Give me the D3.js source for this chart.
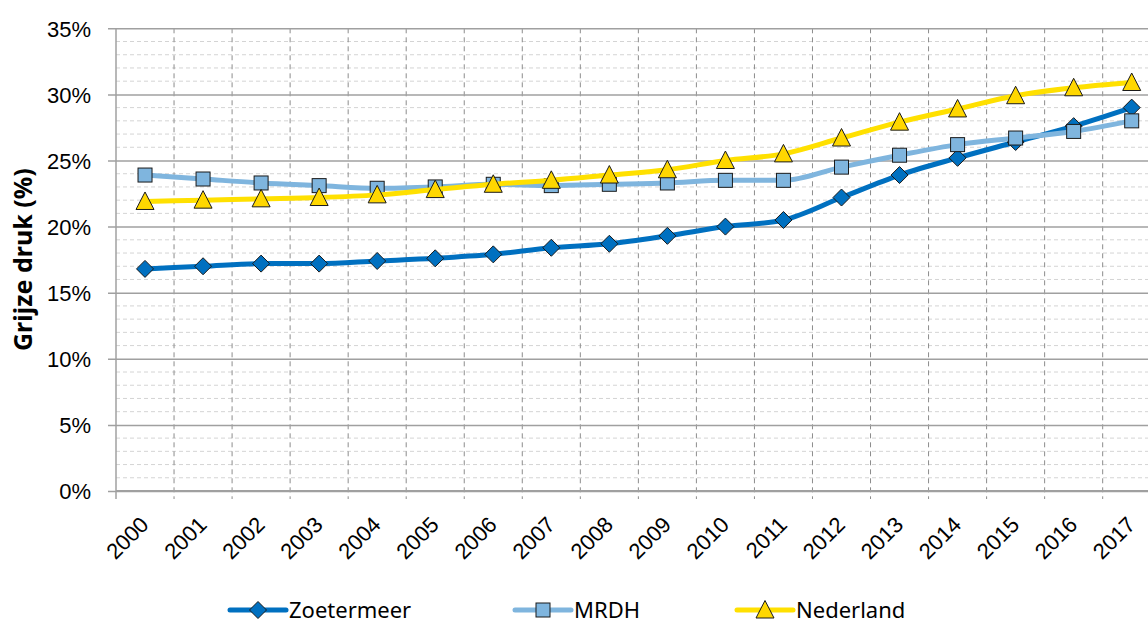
<!DOCTYPE html>
<html>
<head>
<meta charset="utf-8">
<script src="https://cdn.jsdelivr.net/npm/d3@7"></script>
<style>
  body { margin: 0; background: #fff; }
  svg { display: block; font-family: "Noto Sans", sans-serif; }
</style>
</head>
<body>
<div id="chart"></div>
<script>
const years = ['2000', '2001', '2002', '2003', '2004', '2005', '2006', '2007', '2008',
  '2009', '2010', '2011', '2012', '2013', '2014', '2015', '2016', '2017'];
const zoetermeer = [16.8, 17.0, 17.2, 17.2, 17.4, 17.6, 17.9, 18.4, 18.7,
  19.3, 20.0, 20.5, 22.2, 23.9, 25.2, 26.4, 27.6, 29.0];
const mrdh = [23.9, 23.6, 23.3, 23.1, 22.9, 23.0, 23.2, 23.1, 23.2,
  23.3, 23.5, 23.5, 24.5, 25.4, 26.2, 26.7, 27.2, 28.0];
const nederland = [21.9, 22.0, 22.1, 22.2, 22.4, 22.8, 23.2, 23.5, 23.9,
  24.3, 25.0, 25.5, 26.7, 27.9, 28.9, 29.9, 30.5, 30.9];
const yTicks = [0, 5, 10, 15, 20, 25, 30, 35];
const seriesNames = ['Zoetermeer', 'MRDH', 'Nederland'];

const width = 1148, height = 623;
const margin = { top: 28.3, left: 116, bottom: 132 };
const step = 58.04;

const series = [
  { name: seriesNames[0], values: zoetermeer, line: '#0070C0', fill: '#0070C0', shape: 'diamond' },
  { name: seriesNames[1], values: mrdh, line: '#7FB5DE', fill: '#7FB5DE', shape: 'square' },
  { name: seriesNames[2], values: nederland, line: '#FFE000', fill: '#FFD700', shape: 'triangle' },
];

const svg = d3.select('#chart').append('svg')
  .attr('width', width)
  .attr('height', height);

const x = d3.scaleBand()
  .domain(years)
  .range([margin.left, margin.left + step * years.length])
  .padding(0);
const y = d3.scaleLinear()
  .domain([0, 35])
  .range([height - margin.bottom, margin.top]);
const cx = (d) => x(d) + x.bandwidth() / 2;
const right = margin.left + step * years.length;

// minor horizontal gridlines, every 1%
const minor = d3.range(1, 35).filter((v) => v % 5 !== 0);
svg.append('g').selectAll('line')
  .data(minor)
  .enter().append('line')
  .attr('x1', margin.left).attr('x2', right)
  .attr('y1', (d) => y(d)).attr('y2', (d) => y(d))
  .attr('stroke', '#D4D4D4')
  .attr('stroke-width', 1)
  .attr('stroke-dasharray', '4,3');

// vertical dashed gridlines at category boundaries
const bounds = years.slice(1).map((d) => x(d)).concat([right]);
svg.append('g').selectAll('line')
  .data(bounds)
  .enter().append('line')
  .attr('x1', (d) => d).attr('x2', (d) => d)
  .attr('y1', y(35)).attr('y2', y(0) + 8)
  .attr('stroke', '#8C8C8C')
  .attr('stroke-width', 1)
  .attr('stroke-dasharray', '5,4');

// y axis with major gridlines
const yAxis = d3.axisLeft(y)
  .tickValues(yTicks)
  .tickFormat((d) => d + '%')
  .tickSize(-(right - margin.left));
const gY = svg.append('g')
  .attr('transform', `translate(${margin.left},0)`)
  .call(yAxis);
gY.select('.domain').remove();
gY.selectAll('.tick line')
  .attr('x1', -8)
  .attr('stroke', '#A0A0A0')
  .attr('stroke-width', 1.5);
gY.selectAll('.tick text')
  .attr('x', -25)
  .attr('dy', '0.36em')
  .attr('fill', '#000')
  .style('font-size', '22px');
svg.append('line')
  .attr('x1', margin.left).attr('x2', margin.left)
  .attr('y1', y(35)).attr('y2', y(0) + 8)
  .attr('stroke', '#A0A0A0')
  .attr('stroke-width', 1.5);
svg.append('line')
  .attr('x1', margin.left).attr('x2', right)
  .attr('y1', y(0)).attr('y2', y(0))
  .attr('stroke', '#A0A0A0')
  .attr('stroke-width', 2);

// x axis labels
const xAxis = d3.axisBottom(x).tickSize(0);
const gX = svg.append('g')
  .attr('transform', `translate(0,${y(0)})`)
  .call(xAxis);
gX.select('.domain').remove();
gX.selectAll('.tick text')
  .attr('text-anchor', 'end')
  .attr('fill', '#000')
  .style('font-size', '22px')
  .attr('y', 0)
  .attr('dy', 0)
  .attr('transform', 'translate(5,35) rotate(-45)');

// axis title
svg.append('text')
  .attr('transform', `translate(32,${(y(0) + y(35)) / 2}) rotate(-90)`)
  .attr('text-anchor', 'middle')
  .style('font-size', '25px')
  .style('font-weight', 'bold')
  .text('Grijze druk (%)');

function marker(g, shape, fill) {
  if (shape === 'diamond') {
    g.append('path').attr('d', 'M0,-8.5L8.5,0L0,8.5L-8.5,0Z');
  } else if (shape === 'square') {
    g.append('rect').attr('x', -7).attr('y', -7).attr('width', 14).attr('height', 14);
  } else {
    g.append('path').attr('d', 'M0,-9.5L9,8L-9,8Z');
  }
  g.selectAll('path, rect')
    .attr('fill', fill)
    .attr('stroke', '#1a1a1a')
    .attr('stroke-width', 1);
}

const line = d3.line()
  .x((d, i) => cx(years[i]))
  .y((d) => y(d))
  .curve(d3.curveMonotoneX);

series.forEach((s) => {
  svg.append('path')
    .datum(s.values)
    .attr('d', line)
    .attr('fill', 'none')
    .attr('stroke', s.line)
    .attr('stroke-width', 5)
    .attr('stroke-linejoin', 'round');
  s.values.forEach((v, i) => {
    const g = svg.append('g')
      .attr('transform', `translate(${cx(years[i])},${y(v)})`);
    marker(g, s.shape, s.fill);
  });
});

// legend
const legendX = [230, 515, 737];
const legendY = 610;
series.forEach((s, i) => {
  const lg = svg.append('g')
    .attr('transform', `translate(${legendX[i]},${legendY})`);
  lg.append('line')
    .attr('x1', 0).attr('x2', 56)
    .attr('y1', 0).attr('y2', 0)
    .attr('stroke', s.line)
    .attr('stroke-width', 5)
    .attr('stroke-linecap', 'round');
  const m = lg.append('g').attr('transform', 'translate(28,0)');
  marker(m, s.shape, s.fill);
  lg.append('text')
    .attr('x', 59)
    .attr('y', 0)
    .attr('dy', '0.36em')
    .style('font-size', '22px')
    .text(s.name);
});
</script>
</body>
</html>
